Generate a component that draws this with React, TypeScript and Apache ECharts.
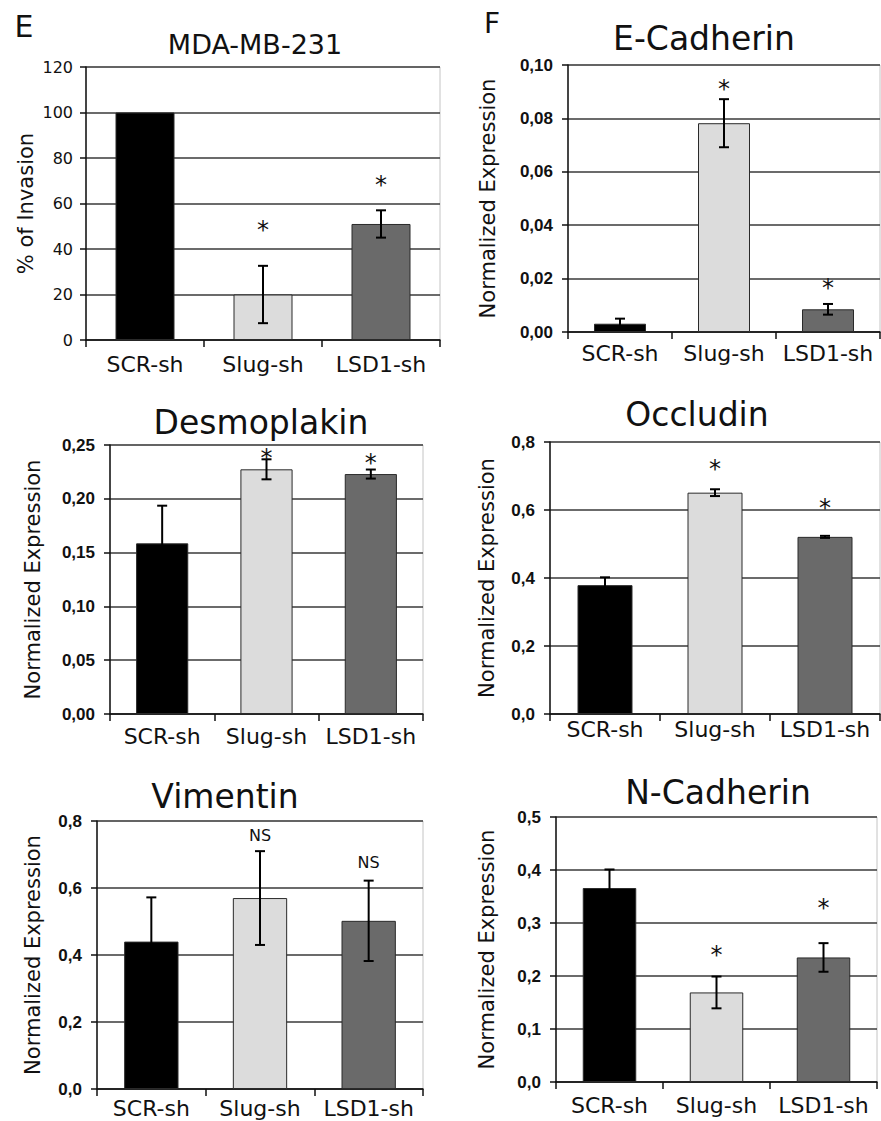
import React, { useEffect, useRef } from "react";
import * as echarts from "echarts";

const categories = ["SCR-sh", "Slug-sh", "LSD1-sh"];
const barColors = ["#000000", "#dcdcdc", "#6a6a6a"];

// Panel E: invasion
const invasionMeans = [100, 20, 51];
const invasionErr = [0, 12.6, 6];
const invasionMarks = [null, 51, 70.7];

// Panel F: E-Cadherin
const ecadMeans = [0.0031, 0.0782, 0.0085];
const ecadErr = [0.0019, 0.009, 0.002];
const ecadMarks = [null, 0.0931, 0.0189];

// Desmoplakin
const desmoMeans = [0.1586, 0.2274, 0.223];
const desmoErr = [0.035, 0.0093, 0.0042];
const desmoMarks = [null, 0.2438, 0.2386];

// Occludin
const occlMeans = [0.379, 0.651, 0.521];
const occlErr = [0.023, 0.01, 0.003];
const occlMarks = [null, 0.737, 0.624];

// Vimentin
const vimMeans = [0.44, 0.57, 0.502];
const vimErr = [0.132, 0.14, 0.12];
const vimMarks = [null, 0.757, 0.676];

// N-Cadherin
const ncadMeans = [0.366, 0.169, 0.235];
const ncadErr = [0.035, 0.03, 0.027];
const ncadMarks = [null, 0.251, 0.34];

const panels = [
  { title: "MDA-MB-231", tSize: 27, tx: 255, ty: 44.5, grid: { left: 86, top: 67, width: 354, height: 273 },
    max: 120, interval: 20, dec: 0, bold: false, yName: "% of Invasion", nameGap: 50, xMargin: 13, yMargin: 13,
    means: invasionMeans, errs: invasionErr, marks: invasionMarks, markText: "*" },
  { title: "E-Cadherin", tSize: 33, tx: 704, ty: 38.5, grid: { left: 568, top: 65, width: 312, height: 267 },
    max: 0.1, interval: 0.02, dec: 2, bold: true, yName: "Normalized Expression", nameGap: 70, xMargin: 10, yMargin: 15,
    means: ecadMeans, errs: ecadErr, marks: ecadMarks, markText: "*" },
  { title: "Desmoplakin", tSize: 33, tx: 261, ty: 422, grid: { left: 110, top: 445, width: 313, height: 269 },
    max: 0.25, interval: 0.05, dec: 2, bold: true, yName: "Normalized Expression", nameGap: 67, xMargin: 11, yMargin: 15,
    means: desmoMeans, errs: desmoErr, marks: desmoMarks, markText: "*" },
  { title: "Occludin", tSize: 33, tx: 697, ty: 414, grid: { left: 550, top: 442, width: 330, height: 272 },
    max: 0.8, interval: 0.2, dec: 1, bold: true, yName: "Normalized Expression", nameGap: 53, xMargin: 4, yMargin: 15,
    means: occlMeans, errs: occlErr, marks: occlMarks, markText: "*" },
  { title: "Vimentin", tSize: 33, tx: 225, ty: 796, grid: { left: 97, top: 821, width: 326, height: 268 },
    max: 0.8, interval: 0.2, dec: 1, bold: true, yName: "Normalized Expression", nameGap: 54, xMargin: 8, yMargin: 15,
    means: vimMeans, errs: vimErr, marks: vimMarks, markText: "NS" },
  { title: "N-Cadherin", tSize: 33, tx: 718, ty: 792.5, grid: { left: 556, top: 817, width: 321, height: 265 },
    max: 0.5, interval: 0.1, dec: 1, bold: true, yName: "Normalized Expression", nameGap: 59, xMargin: 12, yMargin: 15,
    means: ncadMeans, errs: ncadErr, marks: ncadMarks, markText: "*" },
];

const FONT = "DejaVu Sans";

function buildOption() {
  const grid: any[] = [];
  const xAxis: any[] = [];
  const yAxis: any[] = [];
  const series: any[] = [];
  const graphic: any[] = [];

  graphic.push({ type: "text", x: 24, y: 26, style: { text: "E", fontSize: 30, fontFamily: FONT, fill: "#111", textAlign: "center", textVerticalAlign: "middle" } });
  graphic.push({ type: "text", x: 492, y: 23, style: { text: "F", fontSize: 28, fontFamily: FONT, fill: "#111", textAlign: "center", textVerticalAlign: "middle" } });

  panels.forEach((p, k) => {
    grid.push({ ...p.grid, show: true, borderColor: "#c4c4c4", borderWidth: 1, backgroundColor: "transparent", containLabel: false });
    graphic.push({ type: "text", x: p.tx, y: p.ty, style: { text: p.title, fontSize: p.tSize, fontFamily: FONT, fill: "#111", textAlign: "center", textVerticalAlign: "middle" } });
    xAxis.push({
      type: "category", gridIndex: k, data: categories,
      axisLine: { show: true, lineStyle: { color: "#111", width: 1.5 } },
      axisTick: { show: true, alignWithLabel: false, length: 7, lineStyle: { color: "#111", width: 1.5 } },
      axisLabel: { fontSize: 22, fontFamily: FONT, color: "#111", margin: p.xMargin, interval: 0 },
      splitLine: { show: false },
    });
    yAxis.push({
      type: "value", gridIndex: k, min: 0, max: p.max, interval: p.interval,
      name: p.yName, nameLocation: "middle", nameGap: p.nameGap, nameRotate: 90,
      nameTextStyle: { fontSize: 21, fontFamily: FONT, color: "#111" },
      axisLine: { show: true, lineStyle: { color: "#111", width: 1.5 } },
      axisTick: { show: true, length: 6, lineStyle: { color: "#111", width: 1.5 } },
      axisLabel: {
        fontSize: p.bold ? 17 : 16, fontWeight: p.bold ? "bold" : "normal",
        fontFamily: p.bold ? "Liberation Sans" : FONT, color: "#111", margin: p.yMargin,
        formatter: (v: number) => v.toFixed(p.dec).replace(".", ","),
      },
      splitLine: { show: true, lineStyle: { color: "#3a3a3a", width: 1.5 } },
    });
    series.push({
      type: "bar", xAxisIndex: k, yAxisIndex: k, barWidth: "50%",
      data: p.means.map((v, i) => ({ value: v, itemStyle: { color: barColors[i] } })),
      itemStyle: { borderColor: "#2a2a2a", borderWidth: 1 },
      z: 2,
    });
    series.push({
      type: "custom", xAxisIndex: k, yAxisIndex: k, z: 5,
      data: p.means.map((m, i) => [i, m, p.errs[i]]),
      renderItem: (params: any, api: any) => {
        const i = api.value(0), m = api.value(1), e = api.value(2);
        if (!e) return null;
        const t = api.coord([i, m + e]);
        const b = api.coord([i, m - e]);
        const hw = 5;
        const st = { stroke: "#000", lineWidth: 2 };
        return {
          type: "group",
          children: [
            { type: "line", shape: { x1: t[0], y1: t[1], x2: b[0], y2: b[1] }, style: st },
            { type: "line", shape: { x1: t[0] - hw, y1: t[1], x2: t[0] + hw, y2: t[1] }, style: st },
            { type: "line", shape: { x1: b[0] - hw, y1: b[1], x2: b[0] + hw, y2: b[1] }, style: st },
          ],
        };
      },
    });
    const markData: any[] = [];
    p.marks.forEach((v, i) => { if (v != null) markData.push([i, v]); });
    const isStar = p.markText === "*";
    series.push({
      type: "custom", xAxisIndex: k, yAxisIndex: k, z: 6,
      data: markData,
      renderItem: (params: any, api: any) => {
        const c = api.coord([api.value(0), api.value(1)]);
        return {
          type: "text", x: c[0], y: c[1] + (isStar ? 6 : 0),
          style: { text: p.markText, fontSize: isStar ? 24 : 16, fontFamily: FONT, fill: "#111", textAlign: "center", textVerticalAlign: "middle" },
        };
      },
    });
  });

  return { animation: false, backgroundColor: "#ffffff", grid, xAxis, yAxis, series, graphic };
}

export default function App() {
  const ref = useRef<HTMLDivElement>(null);
  useEffect(() => {
    if (!ref.current) return;
    const chart = echarts.init(ref.current, null, { renderer: "svg" });
    chart.setOption(buildOption() as any);
    return () => chart.dispose();
  }, []);
  return (
    <div ref={ref} style={{ position: "absolute", left: 0, top: 0, width: 881, height: 1121, background: "#fff" }} />
  );
}
